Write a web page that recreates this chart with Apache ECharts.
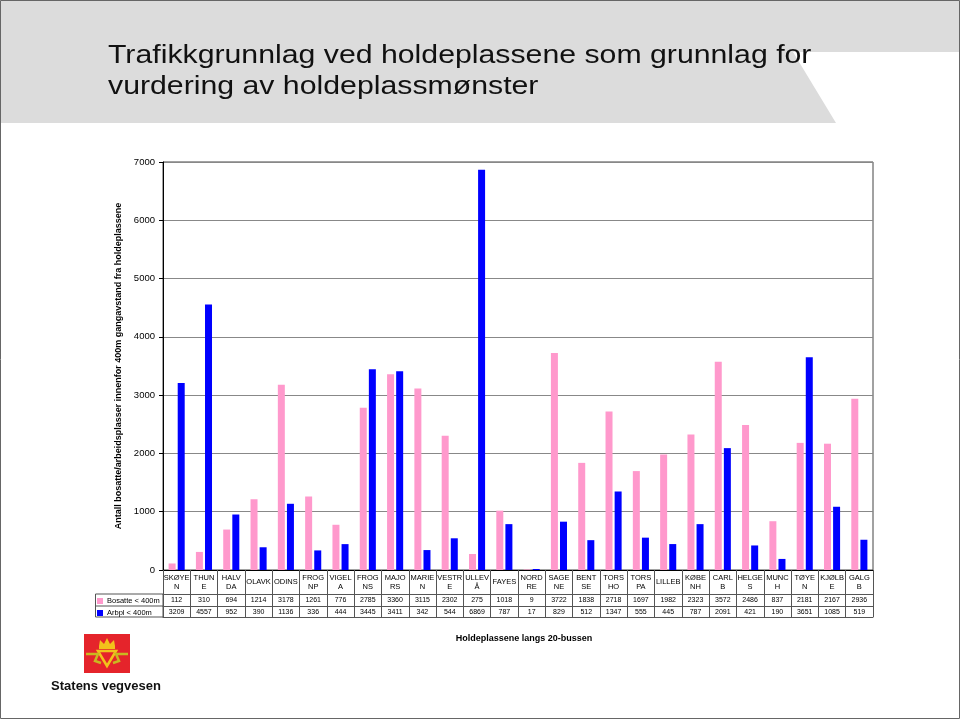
<!DOCTYPE html>
<html><head><meta charset="utf-8">
<script src="https://cdn.jsdelivr.net/npm/echarts@6/dist/echarts.min.js"></script>
<style>html,body{margin:0;padding:0;background:#fff}#c{width:960px;height:720px}</style>
</head><body><div id="c"></div>
<script>
const categories = ['SKØYE\nN','THUN\nE','HALV\nDA','OLAVK','ODINS','FROG\nNP','VIGEL\nA','FROG\nNS','MAJO\nRS','MARIE\nN','VESTR\nE','ULLEV\nÅ','FAYES','NORD\nRE','SAGE\nNE','BENT\nSE','TORS\nHO','TORS\nPA','LILLEB','KØBE\nNH','CARL\nB','HELGE\nS','MUNC\nH','TØYE\nN','KJØLB\nE','GALG\nB'];
const bosatte = [112,310,694,1214,3178,1261,776,2785,3360,3115,2302,275,1018,9,3722,1838,2718,1697,1982,2323,3572,2486,837,2181,2167,2936];
const arbpl = [3209,4557,952,390,1136,336,444,3445,3411,342,544,6869,787,17,829,512,1347,555,445,787,2091,421,190,3651,1085,519];
const seriesNames = ['Bosatte < 400m','Arbpl < 400m'];
const yTicks = {min:0,max:7000,interval:1000};
const titleLines = ['Trafikkgrunnlag ved holdeplassene som grunnlag for','vurdering av holdeplassmønster'];

const chart = echarts.init(document.getElementById('c'), null, {renderer:'canvas'});
const F = 'Liberation Sans, Arial, sans-serif';
const tableLine = '#555';
function xAx(offset, formatter, showLabel) {
  return {
    type:'category', data:categories, position:'bottom', offset:offset, gridIndex:0,
    axisLine:{show:true,lineStyle:{color:tableLine,width:1}},
    axisTick:{show:false},
    axisLabel:{show:showLabel, interval:0, margin:3, fontFamily:F, fontSize:7, color:'#000', formatter:formatter},
    splitLine:{show:false}
  };
}
const option = {
  backgroundColor:'#fff',
  animation:false,
  title:[
    {text:'Holdeplassene langs 20-bussen', left:519, top:629, textAlign:'center',
     textStyle:{fontFamily:F, fontWeight:'bold', fontSize:9, color:'#000'}}
  ],
  legend:{
    data:seriesNames, orient:'vertical', left:97, top:597, itemWidth:6, itemHeight:6, itemGap:4, padding:0,
    icon:'rect', textStyle:{fontFamily:F, fontSize:7.5, color:'#000', lineHeight:6, padding:[0,0,0,-1]}
  },
  grid:{left:163, right:87, top:162, bottom:150, show:true, borderColor:'#444', borderWidth:1, containLabel:false},
  xAxis:[
    {
      type:'category', data:categories, position:'bottom', boundaryGap:true,
      axisLine:{show:true,lineStyle:{color:'#000'}},
      axisTick:{show:true, alignWithLabel:false, length:47, lineStyle:{color:tableLine}},
      axisLabel:{interval:0, margin:3, fontFamily:F, fontSize:7.5, color:'#000', lineHeight:9,
        formatter:function(v){ return v.indexOf('\n')>=0 ? v : '{s|'+v+'}'; },
        rich:{s:{fontFamily:F, fontSize:7.5, lineHeight:18, color:'#000'}}},
      splitLine:{show:false}
    },
    xAx(24, function(v,i){return String(bosatte[i]);}, true),
    xAx(36, function(v,i){return String(arbpl[i]);}, true),
    xAx(47, null, false)
  ],
  yAxis:{
    type:'value', min:yTicks.min, max:yTicks.max, interval:yTicks.interval,
    name:'Antall bosatte/arbeidsplasser innenfor 400m gangavstand fra holdeplassene',
    nameLocation:'middle', nameGap:40, nameRotate:90,
    nameTextStyle:{fontFamily:F, fontWeight:'bold', fontSize:9, color:'#000'},
    axisLine:{show:true, lineStyle:{color:'#000'}},
    axisTick:{show:true, length:4, lineStyle:{color:'#000'}},
    axisLabel:{fontFamily:F, fontSize:9.5, color:'#000', margin:8, formatter:function(v){return String(v);}},
    splitLine:{show:true, lineStyle:{color:'#888', width:1}}
  },
  series:[
    {name:seriesNames[0], type:'bar', data:bosatte, barWidth:7, barGap:'30%', itemStyle:{color:'#FF99CC'}},
    {name:seriesNames[1], type:'bar', data:arbpl, barWidth:7, barGap:'30%', itemStyle:{color:'#0000FF'}}
  ],
  graphic:[
    {type:'polygon', z:-10, shape:{points:[[0,0],[960,0],[960,52],[793,52],[836,123],[0,123]]}, style:{fill:'#dcdcdc'}},
    {type:'text', x:108, y:56, scaleX:1.21, style:{text:titleLines[0], textAlign:'left', textVerticalAlign:'middle', font:'25px Liberation Sans, Arial', fill:'#111'}},
    {type:'text', x:108, y:87, scaleX:1.21, style:{text:titleLines[1], textAlign:'left', textVerticalAlign:'middle', font:'25px Liberation Sans, Arial', fill:'#111'}},
    {type:'rect', z:100, shape:{x:0.5,y:0.5,width:959,height:718}, style:{fill:null, stroke:'#666', lineWidth:1}},
    {type:'rect', shape:{x:95.5,y:594,width:67.5,height:23}, style:{fill:null, stroke:tableLine, lineWidth:1}},
    {type:'line', shape:{x1:95.5,y1:606,x2:163,y2:606}, style:{stroke:tableLine, lineWidth:1}},
    // logo
    {type:'rect', shape:{x:84,y:634,width:46,height:39}, style:{fill:'#E5242B'}},
    {type:'polygon', shape:{points:[[99,646],[100,640],[104,644],[107,638],[110,644],[114,640],[115,646]]}, style:{fill:'#F2C21B'}},
    {type:'rect', shape:{x:99,y:646,width:16,height:3}, style:{fill:'#F2C21B'}},
    {type:'polygon', shape:{points:[[98,651],[116,651],[107,666]]}, style:{fill:null, stroke:'#F2C21B', lineWidth:2.5}},
    {type:'polyline', shape:{points:[[86,654],[98,654],[95,661],[101,663]]}, style:{stroke:'#C9B820', lineWidth:2.5, fill:null}},
    {type:'polyline', shape:{points:[[128,654],[116,654],[119,661],[113,663]]}, style:{stroke:'#C9B820', lineWidth:2.5, fill:null}},
    {type:'text', style:{text:'Statens vegvesen', x:106, y:686, textAlign:'center', textVerticalAlign:'middle', font:'bold 13px Liberation Sans, Arial', fill:'#111'}}
  ]
};
chart.setOption(option);
</script></body></html>
